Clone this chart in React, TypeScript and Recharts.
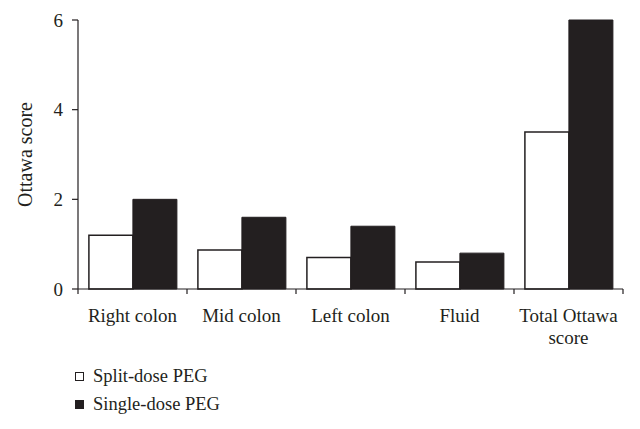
import { BarChart, Bar, XAxis, YAxis, Legend } from "recharts"

const categories = ["Right colon", "Mid colon", "Left colon", "Fluid", "Total Ottawa score"]
const splitDose = [1.2, 0.87, 0.7, 0.6, 3.5]
const singleDose = [2.0, 1.6, 1.4, 0.8, 6.0]
const yTicks = [0, 2, 4, 6]

const data = categories.map((name, i) => ({ name, split: splitDose[i], single: singleDose[i] }))

const ink = "#231f20"
const font = "'Liberation Serif', 'DejaVu Serif', serif"

const CategoryTick = (props: any) => {
  const { x, y, payload, index } = props
  const half = payload?.offset ?? 54.5
  const words: string[] = String(payload.value).split(" ")
  const lines = payload.value.length > 14 ? [words.slice(0, -1).join(" "), words[words.length - 1]] : [payload.value]
  return (
    <g>
      <line x1={x - half} x2={x - half} y1={y} y2={y + 5} stroke={ink} strokeWidth={1.2} />
      {index === categories.length - 1 && (
        <line x1={x + half} x2={x + half} y1={y} y2={y + 5} stroke={ink} strokeWidth={1.2} />
      )}
      <text x={x} y={y + 33} textAnchor="middle" fill={ink} fontSize={19} fontFamily={font}>
        {lines.map((l, i) => (
          <tspan key={i} x={x} dy={i === 0 ? 0 : 22}>
            {l}
          </tspan>
        ))}
      </text>
    </g>
  )
}

const LegendContent = () => (
  <div style={{ fontFamily: font, fontSize: 18.5, color: ink }}>
    {[
      { label: "Split-dose PEG", fill: "#fff" },
      { label: "Single-dose PEG", fill: ink },
    ].map((item) => (
      <div key={item.label} style={{ display: "flex", alignItems: "center", height: 28 }}>
        <span
          style={{
            display: "inline-block",
            width: 7,
            height: 7,
            background: item.fill,
            border: `1.2px solid ${ink}`,
            marginRight: 9,
          }}
        />
        {item.label}
      </div>
    ))}
  </div>
)

export default function App() {
  return (
    <div style={{ position: "absolute", left: 0, top: 0, width: 640, height: 429, background: "#fff" }}>
      <BarChart
        width={640}
        height={429}
        data={data}
        margin={{ top: 20, right: 17, left: 0, bottom: 9 }}
        barCategoryGap="10%"
        barGap={0}
      >
        <XAxis
          dataKey="name"
          height={73}
          tickLine={false}
          tickSize={0}
          tickMargin={0}
          axisLine={{ stroke: ink, strokeWidth: 1.2 }}
          tick={<CategoryTick />}
          interval={0}
        />
        <YAxis
          width={78}
          domain={[0, 6]}
          ticks={yTicks}
          tickSize={6}
          tickMargin={9}
          axisLine={{ stroke: ink, strokeWidth: 1.2 }}
          tickLine={{ stroke: ink, strokeWidth: 1.2 }}
          tick={{ fill: ink, fontSize: 19, fontFamily: font }}
          label={{
            value: "Ottawa score",
            angle: -90,
            position: "center",
            dx: -14,
            fill: ink,
            fontSize: 20,
            fontFamily: font,
          }}
        />
        <Legend
          verticalAlign="bottom"
          align="left"
          height={58}
          content={<LegendContent />}
          wrapperStyle={{ left: 75 }}
        />
        <Bar dataKey="split" name="Split-dose PEG" fill="#fff" stroke={ink} strokeWidth={1.5} isAnimationActive={false} />
        <Bar dataKey="single" name="Single-dose PEG" fill={ink} stroke={ink} strokeWidth={1} isAnimationActive={false} />
      </BarChart>
    </div>
  )
}
